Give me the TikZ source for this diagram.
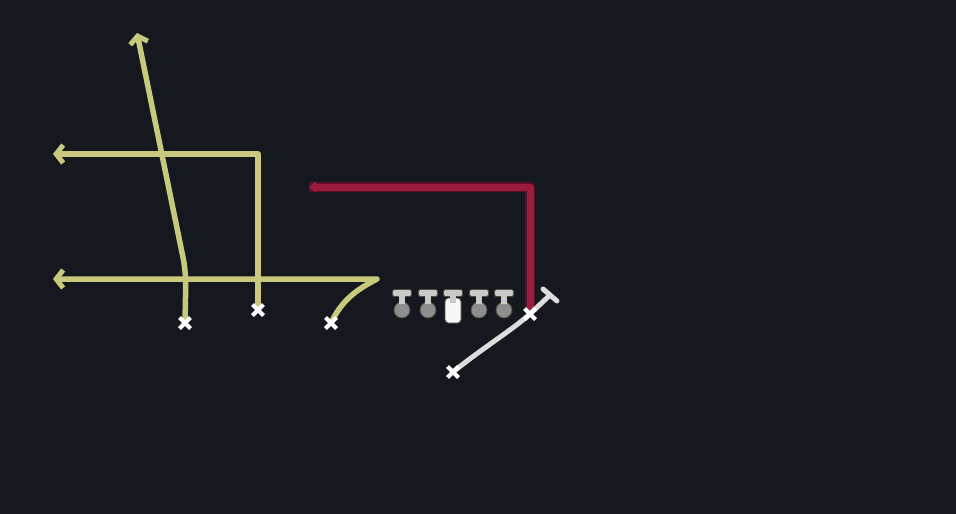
\documentclass[tikz,border=0pt]{standalone}
\usetikzlibrary{arrows.meta}
\definecolor{bg}{HTML}{15181E}
\definecolor{yel}{HTML}{C8C97C}
\definecolor{redr}{HTML}{9B1C3E}
\definecolor{reddark}{HTML}{5A1025}
\definecolor{wht}{HTML}{DCDCDC}
\definecolor{gry}{HTML}{8E8E8E}
\definecolor{lgry}{HTML}{C9C9C9}
\definecolor{edge}{HTML}{4E4E3C}
\tikzset{
  yroute/.style={draw=yel, line width=5.5pt, line join=round, line cap=round,
    -{Straight Barb[length=7pt,width=18pt,line width=5pt]}},
  rback/.style={draw=reddark, line width=10pt, line join=round},
  rroute/.style={draw=redr, line width=7pt, line join=round,
    -{Triangle[length=7pt,width=11pt]}},
  wroute/.style={draw=wht, line width=5pt, line join=round, line cap=round},
  xmark/.pic={\draw[white, line width=4pt] (-5.5,-5.5)--(5.5,5.5) (-5.5,5.5)--(5.5,-5.5);},
  tbar/.pic={\fill[lgry, draw=edge, line width=0.8pt, rounded corners=1.5pt] (-9.5,-3.5) rectangle (9.5,3.5);
             \fill[lgry] (-3,2.5) rectangle (3,10);},
  lman/.pic={\fill[gry, draw=edge, line width=0.8pt] (0,17) circle (8);
             \fill[lgry] (-3,2.5) rectangle (3,11);
             \pic {tbar};},
  cman/.pic={\fill[white!94!gray, draw=edge, line width=0.8pt, rounded corners=3.5pt] (-8,5) rectangle (8,30);
             \pic {tbar};}
}
\begin{document}
\begin{tikzpicture}[x=1pt,y=-1pt]
\fill[bg] (0,0) rectangle (956,514);
\useasboundingbox (0,0) rectangle (956,514);

% players
\coordinate (x1) at (185,323);
\coordinate (x2) at (258,310);
\coordinate (x3) at (331,323);
\coordinate (qb) at (453,372);
\coordinate (te) at (530,314);
% route end points
\coordinate (t1) at (137,33);
\coordinate (b1) at (186,272);
\coordinate (c2) at (258,154);
\coordinate (t2) at (53,154);
\coordinate (c3) at (377,279);
\coordinate (t3) at (53,279);
\coordinate (cr) at (530,187);
\coordinate (tr) at (309,187);
\coordinate (bk) at (550,295);
\coordinate (bka) at (543,289);
\coordinate (bkb) at (557,301);

% yellow routes
\draw[yroute] (x3) .. controls (342,300) and (356,290) .. (c3) -- (t3);
\draw[yroute, rounded corners=14pt] (x1) -- (b1) -- (t1);
\draw[yroute] (x2) -- (c2) -- (t2);

% red route
\draw[rback] (te) -- (cr) -- (tr);
\draw[rroute] (te) -- (cr) -- (tr);

% white block route
\draw[wroute] (qb) .. controls (480,350) and (512,330) .. (te) -- (bk);
\draw[wroute] (bka) -- (bkb);

% linemen
\foreach \xx/\nm in {402/l1,428/l2,479/l4,504/l5}{
  \coordinate (\nm) at (\xx,293);
  \pic at (\nm) {lman};
}
\coordinate (ctr) at (453,293);
\pic at (ctr) {cman};

% X marks
\foreach \p in {x1,x2,x3,qb,te}{\pic at (\p) {xmark};}
\end{tikzpicture}
\end{document}
